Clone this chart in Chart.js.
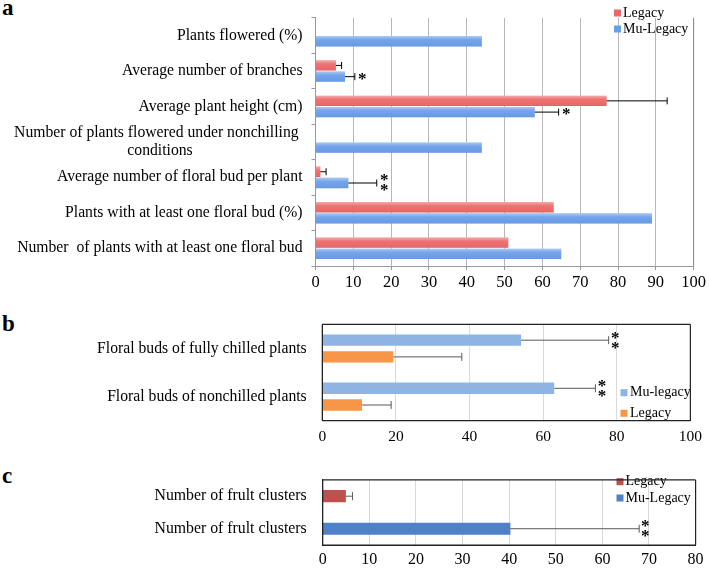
<!DOCTYPE html>
<html><head><meta charset="utf-8">
<script src="https://cdn.jsdelivr.net/npm/chart.js@4/dist/chart.umd.min.js"></script>
<style>
html,body{margin:0;padding:0;background:#fff;width:709px;height:570px;overflow:hidden;position:relative;}
canvas{position:absolute;left:0;}
.tag{position:absolute;left:2px;font:bold 23px "Liberation Serif","Times New Roman",serif;line-height:23px;color:#000;}
</style></head><body>
<div class="tag" style="top:-4px">a</div>
<div class="tag" style="top:312px">b</div>
<div class="tag" style="top:464px">c</div>
<canvas id="ca" width="709" height="300" style="top:0px"></canvas>
<canvas id="cb" width="709" height="150" style="top:300px"></canvas>
<canvas id="cc" width="709" height="115" style="top:455px"></canvas>
<script>
// ---------- Panel a data ----------
const catsA = ['Plants flowered (%)', 'Average number of branches', 'Average plant height (cm)',
  ['Number of plants flowered under nonchilling ', 'conditions' + '\u2002'.repeat(14)],
  'Average number of floral bud per plant', 'Plants with at least one floral bud (%)',
  'Number  of plants with at least one floral bud'];
const legacyA = [null, 5.4, 77, null, 1.3, 63, 51];
const legacyErrA = [null, 1.5, 16, null, 1.5, null, null];
const muA = [44, 7.8, 58, 44, 8.7, 89, 65];
const muErrA = [null, 2.6, 6.3, null, 7.5, null, null];
const muSigA = ['', '*', '*', '', '**', '', ''];
const xMaxA = 100, xStepA = 10;

// ---------- Panel b data ----------
const catsB = ['Floral buds of fully chilled plants', 'Floral buds of nonchilled plants'];
const muB = [54, 63];
const muErrB = [23.8, 11.2];
const muSigB = ['**', '**'];
const legacyB = [19.3, 10.8];
const legacyErrB = [18.6, 7.9];
const xMaxB = 100, xStepB = 20;

// ---------- Panel c data ----------
const catsC = ['Number of frult clusters', 'Number of frult clusters'];
const legacyC = [4.9, null];
const legacyErrC = [1.5, null];
const muC = [null, 40.2];
const muErrC = [null, 27.7];
const muSigC = ['', '**'];
const xMaxC = 80, xStepC = 10;

const SERIF = '"Liberation Serif","Times New Roman",serif';
Chart.defaults.font.family = SERIF;
Chart.defaults.color = '#000';

// soft 3D shading over bars (style only)
const barShade = {
  id: 'barShade',
  afterDatasetsDraw(chart, args, o) {
    if (!o || !o.on) return;
    const ctx = chart.ctx;
    chart.data.datasets.forEach((ds, di) => {
      chart.getDatasetMeta(di).data.forEach((el, i) => {
        if (ds.data[i] == null) return;
        const h = el.height, t = el.y - h / 2;
        const g = ctx.createLinearGradient(0, t, 0, t + h);
        g.addColorStop(0, 'rgba(255,255,255,0.45)');
        g.addColorStop(0.35, 'rgba(255,255,255,0.08)');
        g.addColorStop(0.8, 'rgba(255,255,255,0)');
        g.addColorStop(1, 'rgba(0,0,0,0.10)');
        ctx.save(); ctx.fillStyle = g;
        ctx.fillRect(el.base, t, el.x - el.base, h);
        ctx.restore();
      });
    });
  }
};

const errorBars = {
  id: 'errorBars',
  afterDatasetsDraw(chart, args, o) {
    const ctx = chart.ctx, xs = chart.scales.x;
    chart.data.datasets.forEach((ds, di) => {
      const meta = chart.getDatasetMeta(di);
      meta.data.forEach((el, i) => {
        const v = ds.data[i];
        if (v == null) return;
        let endX = el.x;
        const e = ds.errors ? ds.errors[i] : null;
        if (e != null) {
          endX = xs.getPixelForValue(v + e);
          ctx.save();
          ctx.strokeStyle = o.color; ctx.lineWidth = o.width;
          ctx.beginPath();
          ctx.moveTo(el.x, el.y); ctx.lineTo(endX, el.y);
          ctx.moveTo(endX, el.y - o.cap); ctx.lineTo(endX, el.y + o.cap);
          ctx.stroke(); ctx.restore();
        }
        const s = ds.sig ? ds.sig[i] : '';
        if (s) {
          ctx.save();
          ctx.fillStyle = '#000';
          ctx.font = 'bold ' + o.starSize + 'px ' + SERIF;
          ctx.textAlign = 'center'; ctx.textBaseline = 'middle';
          const n = s.length;
          for (let k = 0; k < n; k++) {
            const yy = el.y + (k - (n - 1) / 2) * o.starGap + o.starDy;
            ctx.fillText('*', endX + o.starDx, yy);
          }
          ctx.restore();
        }
      });
    });
  }
};

const boxLegend = {
  id: 'boxLegend',
  afterDraw(chart, args, o) {
    const ctx = chart.ctx;
    ctx.save();
    ctx.font = o.size + 'px ' + SERIF;
    ctx.textAlign = 'left'; ctx.textBaseline = 'middle';
    chart.data.datasets.forEach((ds, i) => {
      const y = o.y + i * o.step;
      ctx.fillStyle = ds.backgroundColor;
      ctx.fillRect(o.x, y - o.box / 2, o.box, o.box);
      ctx.fillStyle = '#000';
      ctx.fillText(ds.label, o.x + o.box + o.gap, y);
    });
    ctx.restore();
  }
};

const plotBorder = {
  id: 'plotBorder',
  afterDraw(chart, args, o) {
    const {left, right, top, bottom} = chart.chartArea;
    const ctx = chart.ctx;
    ctx.save();
    ctx.strokeStyle = o.color; ctx.lineWidth = o.width;
    ctx.beginPath();
    if (o.sides.includes('t')) { ctx.moveTo(left, top); ctx.lineTo(right, top); }
    if (o.sides.includes('r')) { ctx.moveTo(right, top); ctx.lineTo(right, bottom); }
    if (o.sides.includes('b')) { ctx.moveTo(left, bottom); ctx.lineTo(right, bottom); }
    if (o.sides.includes('l')) { ctx.moveTo(left, top); ctx.lineTo(left, bottom); }
    ctx.stroke(); ctx.restore();
  }
};

function makeChart(id, cfg) {
  return new Chart(document.getElementById(id), {
    type: 'bar',
    data: { labels: cfg.labels, datasets: cfg.datasets },
    plugins: [barShade, errorBars, boxLegend, plotBorder],
    options: {
      indexAxis: 'y', responsive: false, animation: false,
      layout: { padding: cfg.padding, autoPadding: false },
      datasets: { bar: cfg.bar },
      plugins: {
        legend: { display: false }, tooltip: { enabled: false },
        barShade: { on: !!cfg.shade },
        errorBars: cfg.err, boxLegend: cfg.legend, plotBorder: cfg.border
      },
      scales: {
        x: {
          min: 0, max: cfg.xMax,
          ticks: { stepSize: cfg.xStep, font: { family: SERIF, size: cfg.xFont }, padding: cfg.xPad, color: '#000', maxRotation: 0 },
          grid: { color: cfg.gridColor, drawTicks: cfg.xTicks, tickLength: 4, tickColor: cfg.axisColor },
          border: { color: cfg.axisColor, width: 1 },
          afterFit(s) { s.height = cfg.xH; }
        },
        y: {
          ticks: { font: { family: SERIF, size: cfg.yFont, lineHeight: 1.13 }, padding: cfg.yPad, color: '#000', autoSkip: false },
          grid: { drawOnChartArea: false, drawTicks: cfg.yTicks, tickLength: 4, color: cfg.axisColor },
          border: { color: cfg.axisColor, width: 1 },
          afterFit(s) { s.width = cfg.yW; }
        }
      }
    }
  });
}

// Panel a
makeChart('ca', {
  labels: catsA,
  datasets: [
    { label: 'Legacy', data: legacyA, errors: legacyErrA, backgroundColor: '#ec6868' },
    { label: 'Mu-Legacy', data: muA, errors: muErrA, sig: muSigA, backgroundColor: '#6a9de8' }
  ],
  shade: true,
  padding: { left: 0, right: 13, top: 1, bottom: 0 },
  bar: { categoryPercentage: 0.634, barPercentage: 0.92 },
  err: { color: '#000', width: 1, cap: 3.5, starSize: 17, starGap: 10, starDx: 7.5, starDy: 3 },
  legend: { x: 614, y: 13, step: 16, box: 7, gap: 2, size: 14 },
  border: { color: '#888', width: 1, sides: 'r' },
  xMax: xMaxA, xStep: xStepA, xFont: 16.5, xPad: 3, xH: 34, xTicks: true,
  gridColor: '#b8b8b8', axisColor: '#999',
  yFont: 15.7, yPad: 9, yW: 315.5, yTicks: true
});

// Panel b
makeChart('cb', {
  labels: catsB,
  datasets: [
    { label: 'Mu-legacy', data: muB, errors: muErrB, sig: muSigB, backgroundColor: '#8db4e2' },
    { label: 'Legacy', data: legacyB, errors: legacyErrB, backgroundColor: '#f79646' }
  ],
  padding: { left: 0, right: 13.3, top: 22.7, bottom: 0 },
  bar: { categoryPercentage: 0.694, barPercentage: 0.68 },
  err: { color: '#595959', width: 1, cap: 4, starSize: 17, starGap: 10, starDx: 6.7, starDy: 3 },
  legend: { x: 620.5, y: 92.7, step: 20.6, box: 7, gap: 2.5, size: 14 },
  border: { color: '#222', width: 1.2, sides: 'trbl' },
  xMax: xMaxB, xStep: xStepB, xFont: 15.5, xPad: 7, xH: 29.3, xTicks: false,
  gridColor: '#d9d9d9', axisColor: '#222',
  yFont: 15.7, yPad: 15.6, yW: 322.3, yTicks: false
});

// Panel c
makeChart('cc', {
  labels: catsC,
  datasets: [
    { label: 'Legacy', data: legacyC, errors: legacyErrC, backgroundColor: '#c0504d', grouped: false },
    { label: 'Mu-Legacy', data: muC, errors: muErrC, sig: muSigC, backgroundColor: '#4f81c9', grouped: false }
  ],
  padding: { left: 0, right: 13.3, top: 15.7, bottom: 0 },
  bar: { barThickness: 11.5 },
  err: { color: '#595959', width: 1, cap: 4, starSize: 17, starGap: 10, starDx: 6, starDy: 3 },
  legend: { x: 616.5, y: 26.7, step: 16.3, box: 7, gap: 2, size: 14 },
  border: { color: '#222', width: 1.2, sides: 'trbl' },
  xMax: xMaxC, xStep: xStepC, xFont: 16, xPad: 5.4, xH: 25, xTicks: false,
  gridColor: '#d9d9d9', axisColor: '#222',
  yFont: 15.8, yPad: 16, yW: 322.7, yTicks: false
});
</script>
</body></html>
